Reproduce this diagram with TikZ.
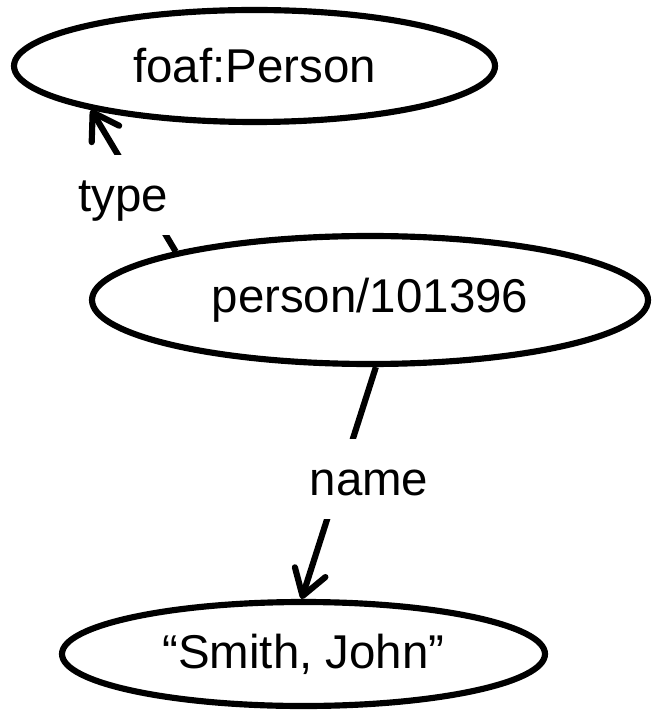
\documentclass[tikz,border=0pt]{standalone}
\usepackage{fontspec}
\setmainfont{Liberation Sans}
\usepackage{tikz}
\usepackage{xcolor}
\usetikzlibrary{arrows.meta}
\usetikzlibrary{shapes}

\begin{document}
\begin{tikzpicture}[line width=3.5pt, >={Straight Barb[length=0.5cm, width=0.64cm, round]},
	every node/.style={font=\fontsize{27}{32}\selectfont},
	resource/.style={draw, ellipse, inner sep=0pt},
	edgelabel/.style={fill=white, anchor=base, inner xsep=0.05cm, inner ysep=0pt, text height=1.13cm, text depth=0.47cm}]
		\useasboundingbox (0,0) rectangle (13.04,-14.24);
		%
		%Klasse
		\node[resource, minimum width=9.62cm, minimum height=2.24cm] (foaf) at (5.09,-1.32) {foaf:Person};
		%
		%Ressource
		\node[resource, minimum width=11.12cm, minimum height=2.56cm] (person) at (7.40,-6.00) {person/101396};
		%
		%Literal
		\node[resource, minimum width=9.66cm, minimum height=2.08cm] (literal) at (6.07,-13.08) {“Smith, John”};
		%
		%type
		\draw[->] (person.166) -- (foaf.195);
		\node[edgelabel] (typelabel) at (2.46,-4.24) {type};
		%
		%name
		\draw[->] (person.275) -- (literal.92);
		\node[edgelabel] (namelabel) at (7.38,-9.90) {name};
	\end{tikzpicture}
\end{document}
